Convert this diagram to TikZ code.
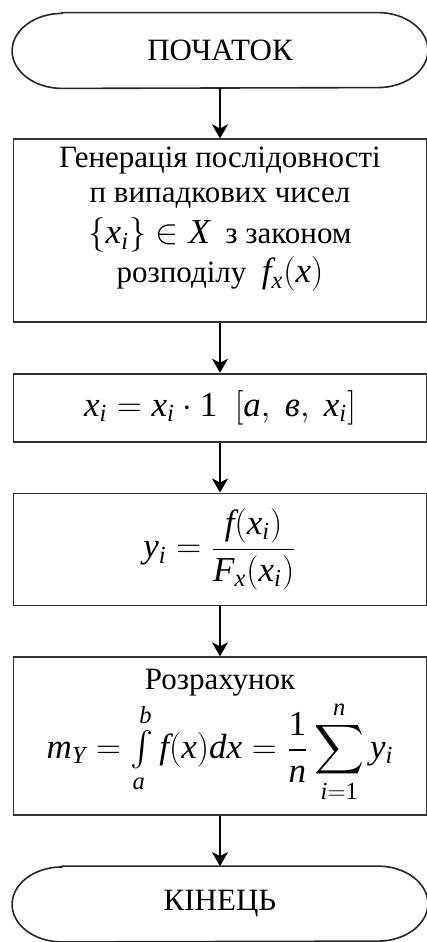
\documentclass[tikz,border=0pt]{standalone}
\usepackage{amsmath}
\usepackage{mathspec}
\setmainfont{Liberation Serif}
\setmathsfont(Latin,Digits){Liberation Serif}
\usetikzlibrary{positioning,arrows.meta,calc}
\tikzset{
  term/.style={minimum width=207.5pt, minimum height=37.5pt, inner sep=0pt,
    font=\fontsize{15.5}{17.5}\selectfont, text=black},
  proc/.style={draw=black!80, line width=0.9pt, minimum width=206.5pt,
    inner sep=4pt, align=center, font=\fontsize{15.5}{17.5}\selectfont, text=black},
  flow/.style={-{Stealth[length=7pt, width=8pt, inset=2pt]}, line width=0.9pt},
}
\newcommand{\mathsz}{\fontsize{17.5}{19}\selectfont}
% outline of a start/end block with flattened ends
\newcommand{\termshape}[1]{%
  \draw[line width=0.8pt, black!85] ($(#1.north west)+(25pt,0)$) -- ($(#1.north east)+(-25pt,0)$)
    arc[start angle=90, end angle=-90, x radius=25pt, y radius=18.75pt]
    -- ($(#1.south west)+(25pt,0)$)
    arc[start angle=270, end angle=90, x radius=25pt, y radius=18.75pt] -- cycle;}

\begin{document}
\begin{tikzpicture}[node distance=25pt]
  \useasboundingbox (0,0) rectangle (213.5pt,-471pt);
  \node[term] (start) at (110pt,-25.25pt) {ПОЧАТОК};
  \termshape{start}
  \node[proc, minimum height=91pt, below=of start] (gen) {Генерація послідовності\\
    п випадкових чисел\\[3pt]
    {\mathsz$\{x_i\}\in X$}\ \ з законом\\[2pt]
    розподілу\ \ {\mathsz$f_x(x)$}\\[-2pt]\mbox{}};
  \node[proc, minimum height=34pt, below=of gen] (assign)
    {\mathsz$x_i = x_i \cdot 1\ \ [a,\ \mbox{\itshape в},\ x_i]$};
  \node[proc, minimum height=56pt, below=of assign] (ratio)
    {\mathsz$\displaystyle y_i = \frac{f(x_i)}{F_x(x_i)}$};
  \node[proc, minimum height=79pt, below=of ratio] (calc) {Розрахунок\\[1pt]
    {\mathsz$\displaystyle m_Y = {\textstyle\int\limits_a^b}\, f(x)dx = \frac{1}{n}\sum_{i=1}^{n} y_i$}};
  \node[term, below=of calc] (stop) {КІНЕЦЬ};
  \termshape{stop}
  \draw[flow] (start) -- (gen);
  \draw[flow] (gen) -- (assign);
  \draw[flow] (assign) -- (ratio);
  \draw[flow] (ratio) -- (calc);
  \draw[flow] (calc) -- (stop);
\end{tikzpicture}
\end{document}
